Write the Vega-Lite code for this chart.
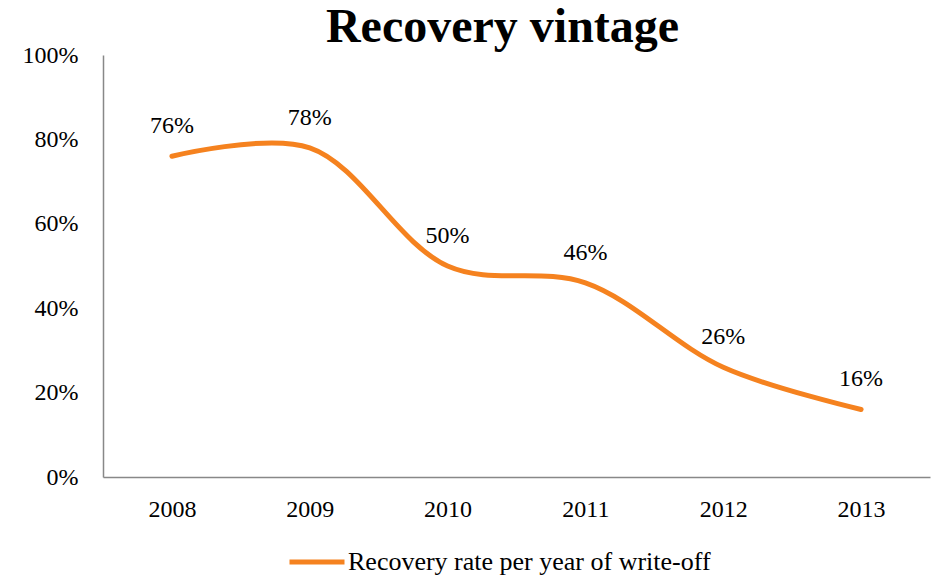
{
  "$schema": "https://vega.github.io/schema/vega-lite/v6.json",
  "autosize": "none",
  "width": 827,
  "height": 422,
  "padding": {"left": 103, "top": 55, "right": 1, "bottom": 102},
  "background": "white",
  "title": {
    "text": "Recovery vintage",
    "font": "Liberation Serif",
    "fontSize": 48,
    "fontWeight": "bold",
    "color": "black",
    "anchor": "middle",
    "frame": "group",
    "dx": -14,
    "baseline": "top",
    "offset": -9
  },
  "config": {
    "view": {"stroke": null},
    "font": "Liberation Serif"
  },
  "data": {
    "values": [
      {"year": "2008", "rate": 0.76, "series": "Recovery rate per year of write-off"},
      {"year": "2009", "rate": 0.78, "series": "Recovery rate per year of write-off"},
      {"year": "2010", "rate": 0.50, "series": "Recovery rate per year of write-off"},
      {"year": "2011", "rate": 0.46, "series": "Recovery rate per year of write-off"},
      {"year": "2012", "rate": 0.26, "series": "Recovery rate per year of write-off"},
      {"year": "2013", "rate": 0.16, "series": "Recovery rate per year of write-off"}
    ]
  },
  "encoding": {
    "x": {
      "field": "year",
      "type": "ordinal",
      "scale": {"type": "point", "padding": 0.5},
      "axis": {
        "title": null,
        "labelAngle": 0,
        "ticks": false,
        "domainColor": "#888888",
        "domainWidth": 1.5,
        "labelFont": "Liberation Serif",
        "labelFontSize": 24,
        "labelColor": "black",
        "labelPadding": 20
      }
    },
    "y": {
      "field": "rate",
      "type": "quantitative",
      "scale": {"domain": [0, 1], "nice": false},
      "axis": {
        "title": null,
        "format": ".0%",
        "values": [0, 0.2, 0.4, 0.6, 0.8, 1],
        "ticks": false,
        "grid": false,
        "domainColor": "#888888",
        "domainWidth": 1.5,
        "labelFont": "Liberation Serif",
        "labelFontSize": 24,
        "labelColor": "black",
        "labelPadding": 25
      }
    }
  },
  "layer": [
    {
      "mark": {"type": "line", "interpolate": "catmull-rom", "strokeWidth": 5, "strokeCap": "round"},
      "encoding": {
        "color": {
          "field": "series",
          "type": "nominal",
          "scale": {"range": ["#F5821F"]},
          "legend": {
            "title": null,
            "orient": "none",
            "legendX": 184,
            "legendY": 477,
            "symbolType": "stroke",
            "symbolSize": 3025,
            "symbolStrokeWidth": 5,
            "labelFont": "Liberation Serif",
            "labelFontSize": 26,
            "labelColor": "black",
            "labelLimit": 600,
            "labelOffset": 1
          }
        }
      }
    },
    {
      "mark": {"type": "text", "baseline": "alphabetic", "dy": -23, "font": "Liberation Serif", "fontSize": 24, "color": "black"},
      "encoding": {
        "text": {"field": "rate", "type": "quantitative", "format": ".0%"}
      }
    }
  ]
}
